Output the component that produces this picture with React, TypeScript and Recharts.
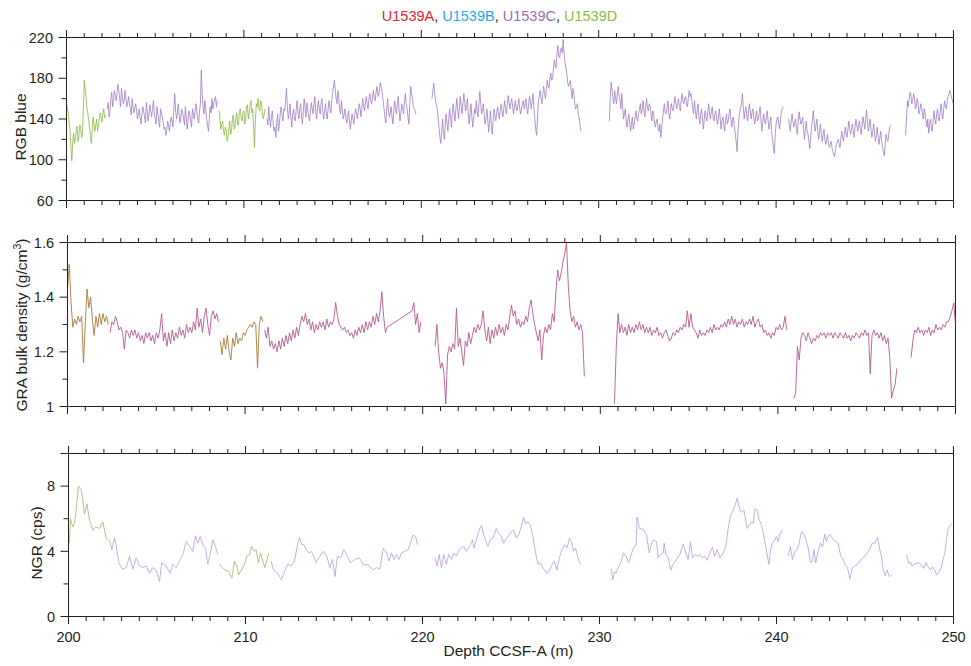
import React from 'react';
import { LineChart, Line, XAxis, YAxis, ReferenceLine } from 'recharts';

const W = 971;
const H = 666;
const FONT = '"Liberation Sans", Arial, Helvetica, sans-serif';
const INK = '#231f20';

// ---------- axes ----------
const depthDomain: [number, number] = [200, 250];
const depthMinorTicks = Array.from({ length: 51 }, (_, i) => 200 + i);
const depthLabelTicks = [200, 210, 220, 230, 240, 250];

const rgbTicks = [60, 80, 100, 120, 140, 160, 180, 200, 220];
const rgbLabels = [60, 100, 140, 180, 220];
const graTicks = [1, 1.1, 1.2, 1.3, 1.4, 1.5, 1.6];
const graLabels = [1, 1.2, 1.4, 1.6];
const ngrTicks = [0, 2, 4, 6, 8, 10];
const ngrLabels = [0, 4, 8];
const ngrMajor = [0, 4, 8, 10];

const holeNames = ['U1539A', 'U1539B', 'U1539C', 'U1539D'];
const holeColors = ['#e2232d', '#27a9e1', '#9d6db5', '#8dbd3f'];

// ---------- RGB blue (0.05 m spacing, start depth given) ----------
const rgbStep = 0.05;
const rgbD1Start = 200.0;
const rgbD1 = [155,150,146,136,128,112,99,118,126,116,120,130,133,118,124,134,131,122,125,150,
  178,170,162,150,146,138,132,124,116,130,142,135,128,134,140,128,133,140,146,142,137,145,150,141,144];
const rgbC1Start = 202.3;
const rgbC1 = [150,156,142,148,160,166,152,160,168,162,158,166,174,168,160,152,170,162,155,158,
  168,160,152,156,162,155,150,144,160,152,146,150,155,148,140,145,150,142,135,144,
  152,148,142,136,156,148,138,145,154,148,142,150,158,146,140,135,152,145,138,132,
  150,146,142,136,130,132,124,128,138,134,128,136,142,138,132,150,165,148,140,146,
  155,145,136,142,150,146,140,134,152,142,130,138,148,144,138,132,150,146,140,148,
  155,146,140,136,148,155,188,165,152,145,158,150,140,134,128,140,152,146,160,150,
  155,160,162,152,158];
const rgbD2Start = 208.6;
const rgbD2 = [148,140,130,135,138,128,124,132,130,118,122,130,138,125,128,140,144,130,132,142,
  146,134,136,148,150,140,138,146,148,135,140,152,154,140,145,155,158,146,150,130,
  112,140,155,152,160,150,148,158,155,145,140,146,150];
const rgbC2Start = 211.3;
const rgbC2 = [140,134,152,140,132,142,148,136,128,132,122,136,145,128,
  135,146,152,144,138,150,148,158,170,152,140,146,155,140,132,144,150,140,138,150,
  158,146,140,150,155,142,135,148,160,150,142,156,150,142,138,148,156,150,145,155,
  162,148,140,150,158,150,145,155,160,146,140,148,155,145,140,150,158,150,146,158,
  165,172,178,168,160,155,168,160,150,145,158,148,140,145,150,140,136,142,148,138,
  130,138,145,140,135,144,150,145,140,148,155,150,142,152,160,152,148,156,162,154,
  150,160,165,158,155,162,168,160,158,166,172,164,162,170,176,170,165,158,150,142,
  136,150,160,148,142,146,152,142,135,148,158,150,145,155,162,148,138,146,155,150,
  145,156,165,155,150,142,135,155,172,166,160,152,150,148,145];
const rgbC3Start = 220.6;
const rgbC3 = [160,168,175,165,158,154,150,140,
  132,122,116,128,140,126,120,134,145,136,128,140,150,140,132,146,155,145,138,150,
  160,150,140,152,162,152,145,156,165,155,148,154,160,145,135,145,155,142,132,140,
  150,145,158,148,142,155,167,155,145,150,155,142,135,142,150,138,127,138,148,134,
  125,138,150,144,138,146,152,145,140,148,155,148,142,150,158,150,145,155,163,156,
  150,156,160,152,145,152,158,150,148,155,160,150,145,150,155,158,150,155,160,150,
  145,155,162,156,150,158,165,150,140,130,124,140,158,162,168,160,155,165,172,165,
  160,170,178,172,170,180,185,178,180,190,198,192,190,205,212,202,200,208,210,205,
  218,205,195,190,185,176,172,175,178,168,160,170,165,155,150,152,155,145,140,134,
  128];
const rgbC4Start = 230.6;
const rgbC4 = [138,160,176,168,160,155,168,160,
  155,165,172,162,158,150,165,152,140,145,150,138,132,140,145,135,128,136,142,130,
  135,142,148,140,138,146,150,155,145,150,158,148,142,152,160,150,148,155,152,144,
  138,148,145,136,132,138,140,130,128,135,122,130,140,148,155,146,145,150,158,146,
  140,148,155,150,148,155,162,155,150,156,160,152,148,158,165,158,155,160,162,155,
  152,160,168,162,165,158,150,145,158,148,140,148,155,142,135,145,150,140,130,140,
  148,142,138,148,155,145,140,148,152,142,138,145,148,140,135,142,150,140,130,138,
  142,135,128,138,145,135,138,145,150,140,132,140,142,132,125,118,108,128,140,146,
  150,155,165,152,140,148,152,142,138,148,155,145,140,148,150,140,135,142,148,138,
  140,146,152,138,128,138,145,138,135,142,148,138,130,136,142,128,120,112,106,125,
  135,140,142,135,130,140,148,150,152];
const rgbC5Start = 240.7;
const rgbC5 = [140,134,128,138,145,138,
  132,136,140,130,125,138,147,140,135,138,142,130,120,130,138,128,125,118,111,122,
  132,140,148,136,128,134,140,128,120,128,135,125,118,124,130,120,115,120,125,116,
  112,115,118,112,108,105,103,110,115,118,120,116,112,120,128,122,118,125,132,126,
  122,130,138,130,125,130,135,128,122,132,140,134,128,134,138,130,125,135,142,136,
  130,140,149,138,128,134,140,130,122,128,135,126,118,125,132,122,115,122,128,118,
  112,108,104,115,125,120,118,125,132,133,134];
const rgbC6Start = 247.3;
const rgbC6 = [124,140,158,152,160,166,163,155,158,165,160,150,152,160,
  156,145,148,155,152,145,140,150,146,138,132,140,126,134,140,132,128,138,148,140,
  135,145,150,140,138,148,155,145,140,150,158,152,150,158,162,165,168,164,160,158,
  154];

// ---------- GRA bulk density (0.1 m spacing) ----------
const graStep = 0.1;
const graD1Start = 200.0;
const graD1 = [1.43,1.52,1.38,1.29,1.32,1.30,1.33,1.31,1.33,1.16,1.30,1.43,1.36,1.40,1.32,1.26,1.33,1.29,1.34,1.30,1.34,1.31,1.33,1.30];
const graC1Start = 202.4;
const graC1 = [1.27,1.31,1.30,1.33,1.31,1.28,
  1.29,1.27,1.21,1.28,1.27,1.25,1.28,1.26,1.28,1.25,
  1.27,1.24,1.26,1.23,1.27,1.25,1.27,1.24,1.26,1.23,
  1.27,1.25,1.28,1.34,1.24,1.27,1.22,1.27,1.23,1.28,
  1.24,1.27,1.25,1.29,1.26,1.28,1.25,1.30,1.27,1.29,
  1.27,1.31,1.28,1.36,1.29,1.32,1.27,1.33,1.36,1.30,
  1.26,1.33,1.35,1.32,1.34,1.31];
const graD2Start = 208.6;
const graD2 = [1.24,1.19,1.25,1.21,
  1.26,1.20,1.17,1.25,1.22,1.27,1.23,1.25,1.24,1.27,
  1.26,1.28,1.29,1.30,1.29,1.31,1.30,1.14,1.30,1.33,
  1.31];
const graC2aStart = 211.1;
const graC2a = [1.28,1.25,1.29,1.22,1.24,1.21,1.23,1.20,1.24,
  1.21,1.25,1.22,1.26,1.23,1.27,1.24,1.28,1.25,1.29,
  1.26,1.30,1.33,1.31,1.34,1.30,1.32,1.28,1.31,1.27,
  1.30,1.28,1.31,1.29,1.31,1.28,1.32,1.29,1.31,1.30,
  1.32,1.38,1.33,1.30,1.29,1.28,1.29,1.27,1.28,1.26,
  1.27,1.25,1.28,1.26,1.29,1.27,1.30,1.27,1.31,1.28,
  1.31,1.29,1.33,1.30,1.34,1.31,1.35,1.42,1.33,1.27,
  1.29];
const graC2bStart = 219.4;
const graC2b = [1.35,1.38,1.30,1.34,1.27,1.31];
const graC3Start = 220.7;
const graC3 = [1.22,1.30,1.20,
  1.14,1.16,1.12,1.01,1.19,1.22,1.20,1.23,1.21,1.36,
  1.22,1.25,1.20,1.15,1.24,1.22,1.27,1.23,1.26,1.29,
  1.27,1.30,1.28,1.30,1.35,1.28,1.24,1.29,1.23,1.28,
  1.25,1.29,1.26,1.30,1.27,1.29,1.26,1.30,1.28,1.33,
  1.37,1.33,1.35,1.30,1.32,1.29,1.31,1.30,1.33,1.31,
  1.36,1.39,1.34,1.30,1.27,1.24,1.28,1.17,1.26,1.29,
  1.27,1.30,1.28,1.34,1.31,1.42,1.50,1.46,1.49,1.53,
  1.56,1.60,1.44,1.35,1.31,1.33,1.29,1.31,1.28,1.30,
  1.27,1.11];
const graC4Start = 230.8;
const graC4 = [1.01,1.22,
  1.34,1.27,1.30,1.27,1.29,1.26,1.30,1.27,1.29,1.27,
  1.30,1.28,1.31,1.28,1.30,1.27,1.29,1.27,1.29,1.26,
  1.28,1.27,1.29,1.26,1.27,1.25,1.27,1.28,1.26,1.24,
  1.25,1.27,1.26,1.28,1.27,1.29,1.28,1.30,1.29,1.35,
  1.29,1.34,1.29,1.28,1.27,1.25,1.28,1.26,1.27,1.26,
  1.28,1.27,1.29,1.27,1.30,1.28,1.29,1.28,1.30,1.29,
  1.31,1.29,1.32,1.30,1.33,1.30,1.32,1.29,1.31,1.30,
  1.32,1.29,1.31,1.30,1.32,1.30,1.33,1.29,1.31,1.32,
  1.29,1.30,1.27,1.28,1.26,1.27,1.25,1.27,1.26,1.29,
  1.28,1.30,1.28,1.29,1.33,1.28];
const graC5Start = 240.9;
const graC5 = [1.03,
  1.05,1.22,1.17,1.25,1.27,1.26,1.24,1.27,1.25,1.23,
  1.25,1.24,1.26,1.25,1.27,1.26,1.27,1.25,1.27,1.26,
  1.27,1.25,1.27,1.26,1.25,1.27,1.26,1.25,1.27,1.25,
  1.26,1.24,1.26,1.25,1.27,1.26,1.25,1.27,1.26,1.28,
  1.26,1.27,1.12,1.26,1.28,1.26,1.27,1.25,1.27,1.24,
  1.26,1.23,1.25,1.18,1.03,1.06,1.08,1.14];
const graC6Start = 247.5;
const graC6 = [1.18,1.24,1.28,1.27,1.29,1.27,1.28,1.26,1.28,1.27,1.29,1.26,1.28,1.27,1.30,1.28,1.29,1.28,1.30,1.29,1.31,1.31,1.33,1.35,1.38,1.30];

// ---------- NGR (depth, cps) ----------
const ngrD1 = [[200.06,4.5],[200.11,6.0],[200.24,5.5],[200.34,5.7],[200.43,6.5],[200.56,8.0],[200.72,7.75],[200.81,7.1],[200.90,6.3],[201.04,6.9],[201.19,5.9],[201.37,5.3],[201.56,5.5],[201.75,5.4],[201.94,5.8],[202.13,4.8],[202.26,4.7]];
const ngrC1 = [[202.32,4.7],[202.45,4.1],[202.60,4.8],[202.69,4.4],[202.84,3.3],[203.03,2.9],[203.26,3.0],[203.45,3.7],[203.63,2.9],[203.82,3.6],[204.01,3.1],[204.20,3.0],[204.39,3.1],[204.58,2.65],[204.76,3.0],[204.95,2.85],[205.14,2.15],[205.27,3.3],[205.52,3.1],[205.74,2.65],[205.89,3.2],[206.08,3.0],[206.27,3.4],[206.46,3.8],[206.65,4.6],[206.84,4.3],[207.02,4.0],[207.18,4.95],[207.31,4.5],[207.44,4.9],[207.63,4.3],[207.74,4.2],[207.87,3.2],[208.02,3.9],[208.15,4.7],[208.30,4.3],[208.44,3.8]];
const ngrD2 = [[208.53,3.2],[208.68,3.0],[208.87,2.85],[209.06,2.75],[209.23,2.35],[209.38,3.4],[209.51,3.1],[209.62,2.55],[209.77,2.85],[209.94,3.2],[210.08,3.7],[210.23,3.8],[210.34,4.3],[210.49,4.0],[210.60,4.1],[210.73,3.3],[210.85,3.9],[210.98,3.4],[211.09,3.0],[211.22,3.5],[211.32,3.9]];
const ngrC2 = [[211.45,3.4],[211.58,2.85],[211.73,2.75],[211.92,2.45],[212.03,2.25],[212.20,2.75],[212.39,3.2],[212.58,3.1],[212.77,3.4],[212.92,4.3],[213.05,4.85],[213.18,4.4],[213.30,4.4],[213.43,4.1],[213.58,3.9],[213.71,4.0],[213.86,3.7],[213.99,3.3],[214.14,3.6],[214.40,4.0],[214.59,3.7],[214.77,3.0],[214.91,3.5],[215.06,2.45],[215.19,3.7],[215.38,3.6],[215.56,4.1],[215.71,3.8],[215.94,3.3],[216.18,3.5],[216.43,3.6],[216.65,3.2],[216.94,3.15],[217.18,2.85],[217.41,3.0],[217.59,2.9],[217.78,4.2],[217.97,3.9],[218.10,3.4],[218.25,3.9],[218.38,3.5],[218.53,3.8],[218.67,3.5],[218.82,3.9],[219.00,4.0],[219.19,4.1],[219.32,4.5],[219.47,5.0],[219.61,4.9],[219.72,4.4]];
const ngrC3 = [[220.70,3.6],[220.83,3.1],[220.94,3.8],[221.07,3.0],[221.20,3.8],[221.35,3.2],[221.48,3.8],[221.64,3.5],[221.77,3.9],[221.92,3.7],[222.07,4.1],[222.20,4.2],[222.33,4.3],[222.48,4.0],[222.67,4.3],[222.82,4.7],[222.91,4.2],[223.05,4.7],[223.20,5.3],[223.33,5.6],[223.42,5.2],[223.55,4.7],[223.70,4.3],[223.83,4.7],[223.98,4.8],[224.17,5.4],[224.30,5.1],[224.45,4.9],[224.59,4.5],[224.74,4.8],[224.89,5.0],[225.02,5.2],[225.15,5.3],[225.30,4.8],[225.43,5.0],[225.58,5.5],[225.71,6.1],[225.81,5.7],[225.96,5.8],[226.09,5.6],[226.24,4.9],[226.39,3.9],[226.52,3.2],[226.65,3.3],[226.80,3.0],[226.95,2.75],[227.05,2.65],[227.18,2.85],[227.33,3.2],[227.46,3.4],[227.59,2.85],[227.71,3.5],[227.84,4.0],[228.03,4.4],[228.16,4.2],[228.31,4.8],[228.42,4.6],[228.53,4.0],[228.65,4.2],[228.78,3.6],[228.91,3.2]];
const ngrC4 = [[230.66,2.95],[230.75,2.25],[230.85,2.75],[230.94,2.65],[231.07,3.05],[231.22,3.35],[231.35,3.9],[231.50,3.7],[231.65,3.3],[231.79,3.8],[231.92,4.2],[232.07,4.4],[232.12,6.1],[232.26,5.4],[232.47,5.35],[232.66,5.0],[232.81,3.9],[232.94,4.5],[233.07,4.7],[233.22,4.6],[233.31,3.6],[233.45,3.8],[233.60,3.9],[233.65,4.5],[233.75,3.8],[233.88,3.6],[234.03,2.85],[234.16,3.2],[234.35,3.5],[234.54,3.8],[234.73,4.45],[234.88,3.9],[235.01,3.5],[235.14,4.6],[235.25,3.6],[235.39,3.8],[235.52,3.7],[235.67,3.8],[235.82,3.6],[235.95,3.7],[236.08,3.45],[236.23,3.9],[236.38,4.25],[236.50,3.7],[236.65,4.1],[236.80,3.6],[236.99,3.9],[237.14,4.3],[237.27,5.4],[237.40,6.2],[237.55,6.5],[237.65,6.8],[237.78,7.25],[237.93,6.5],[238.06,6.4],[238.17,6.5],[238.27,5.8],[238.34,5.4],[238.46,5.6],[238.59,5.8],[238.68,5.7],[238.78,6.6],[238.91,6.5],[239.02,5.9],[239.10,5.8],[239.21,5.3],[239.34,4.6],[239.47,3.8],[239.57,3.2],[239.66,4.1],[239.77,4.5],[239.91,4.7],[240.00,4.9],[240.09,4.6],[240.19,5.05],[240.34,5.3]];
const ngrC5 = [[240.66,3.7],[240.79,4.3],[240.90,3.5],[241.04,4.0],[241.17,4.1],[241.28,4.5],[241.41,5.2],[241.54,5.1],[241.69,4.6],[241.79,4.2],[241.92,3.3],[242.03,3.4],[242.11,4.1],[242.22,3.3],[242.35,4.0],[242.49,4.5],[242.60,4.3],[242.73,5.05],[242.82,4.6],[242.92,4.9],[243.01,5.05],[243.16,4.8],[243.30,4.6],[243.48,4.5],[243.63,3.7],[243.77,3.5],[243.90,3.1],[244.01,3.0],[244.14,2.3],[244.29,3.0],[244.43,3.1],[244.56,3.2],[244.71,3.4],[244.86,3.6],[244.99,3.7],[245.12,3.9],[245.27,4.1],[245.40,4.5],[245.56,4.5],[245.71,4.85],[245.84,4.1],[245.93,3.7],[246.03,2.85],[246.14,2.5],[246.25,2.85],[246.37,2.45],[246.50,2.55]];
const ngrC6 = [[247.34,3.8],[247.48,3.25],[247.57,3.35],[247.66,3.1],[247.82,3.25],[248.00,3.3],[248.19,3.15],[248.32,2.95],[248.44,3.3],[248.57,3.05],[248.70,2.85],[248.81,3.05],[248.94,2.85],[249.04,2.55],[249.19,2.75],[249.32,3.05],[249.42,3.55],[249.51,3.9],[249.60,4.7],[249.70,5.4],[249.83,5.6],[249.94,5.75]];

// ---------- helpers ----------
type Pt = { x: number; v: number };
const seq = (start: number, step: number, vals: number[]): Pt[] =>
  vals.map((v, i) => ({ x: Math.round((start + i * step) * 1000) / 1000, v }));
const pairs = (p: number[][]): Pt[] => p.map(([x, v]) => ({ x, v }));

const RGB_C = '#a07cc0';
const RGB_D = '#8db443';
const GRA_C = '#b25b92';
const GRA_D = '#a8793f';
const NGR_C = '#b99bd7';
const NGR_D = '#a7ad6c';

type Seg = { data: Pt[]; color: string };

const rgbSegs: Seg[] = [
  { data: seq(rgbD1Start, rgbStep, rgbD1), color: RGB_D },
  { data: seq(rgbC1Start, rgbStep, rgbC1), color: RGB_C },
  { data: seq(rgbD2Start, rgbStep, rgbD2), color: RGB_D },
  { data: seq(rgbC2Start, rgbStep, rgbC2), color: RGB_C },
  { data: seq(rgbC3Start, rgbStep, rgbC3), color: RGB_C },
  { data: seq(rgbC4Start, rgbStep, rgbC4), color: RGB_C },
  { data: seq(rgbC5Start, rgbStep, rgbC5), color: RGB_C },
  { data: seq(rgbC6Start, rgbStep, rgbC6), color: RGB_C },
];
const graSegs: Seg[] = [
  { data: seq(graD1Start, graStep, graD1), color: GRA_D },
  { data: seq(graC1Start, graStep, graC1), color: GRA_C },
  { data: seq(graD2Start, graStep, graD2), color: GRA_D },
  { data: [...seq(graC2aStart, graStep, graC2a), ...seq(graC2bStart, graStep, graC2b)], color: GRA_C },
  { data: seq(graC3Start, graStep, graC3), color: GRA_C },
  { data: seq(graC4Start, graStep, graC4), color: GRA_C },
  { data: seq(graC5Start, graStep, graC5), color: GRA_C },
  { data: seq(graC6Start, graStep, graC6), color: GRA_C },
];
const ngrSegs: Seg[] = [
  { data: pairs(ngrD1), color: NGR_D },
  { data: pairs(ngrC1), color: NGR_C },
  { data: pairs(ngrD2), color: NGR_D },
  { data: pairs(ngrC2), color: NGR_C },
  { data: pairs(ngrC3), color: NGR_C },
  { data: pairs(ngrC4), color: NGR_C },
  { data: pairs(ngrC5), color: NGR_C },
  { data: pairs(ngrC6), color: NGR_C },
];

// ---------- tick renderers ----------
function XTick(props: any) {
  const { x, y, payload, dir, showLabel } = props;
  const v = Number(payload.value);
  const major = depthLabelTicks.includes(v);
  const len = major ? 7.5 : 4.5;
  return (
    <g>
      <line x1={x} x2={x} y1={y} y2={y + dir * len} stroke={INK} strokeWidth={1} />
      {showLabel && major ? (
        <text x={x} y={y + 25} textAnchor="middle" fontFamily={FONT} fontSize={14.5} fill={INK}>
          {v}
        </text>
      ) : null}
    </g>
  );
}

function YTick(props: any) {
  const { x, y, payload, labels, majors } = props;
  const v = Number(payload.value);
  const isLabel = labels.includes(v);
  const len = majors.includes(v) ? 8 : 5;
  return (
    <g>
      <line x1={x - len} x2={x} y1={y} y2={y} stroke={INK} strokeWidth={1} />
      {isLabel ? (
        <text x={x - 13.5} y={y + 5.2} textAnchor="end" fontFamily={FONT} fontSize={14.5} fill={INK}>
          {String(v)}
        </text>
      ) : null}
    </g>
  );
}

type PanelProps = {
  x0: number; x1: number; y0: number; y1: number;
  domain: [number, number];
  ticks: number[]; labels: number[]; majors: number[];
  segs: Seg[]; strokeWidth: number;
  title: React.ReactNode; titleBaseX: number; titleCY: number;
  showX?: boolean; legend?: boolean;
};

function Legend() {
  return (
    <text x={499.5} y={20.5} textAnchor="middle" fontFamily={FONT} fontSize={14.5} style={{ whiteSpace: 'pre' }}>
      {holeNames.map((n, i) => (
        <React.Fragment key={n}>
          <tspan fill={holeColors[i]}>{n}</tspan>
          {i < holeNames.length - 1 ? <tspan fill={INK}>{', '}</tspan> : null}
        </React.Fragment>
      ))}
    </text>
  );
}

function Panel(p: PanelProps) {
  const margin = { top: p.y0 - 10, right: W - p.x1, bottom: H - p.y1 - 12, left: 0 };
  return (
    <div style={{ position: 'absolute', left: 0, top: 0 }}>
      <LineChart width={W} height={H} margin={margin}>
        <XAxis
          xAxisId="t" orientation="top" type="number" dataKey="x"
          domain={depthDomain} ticks={depthMinorTicks} interval={0} allowDataOverflow
          height={10} tickSize={0} tickMargin={0} tickLine={false}
          axisLine={{ stroke: INK, strokeWidth: 1 }}
          tick={<XTick dir={-1} showLabel={false} />}
          label={p.legend ? { content: () => <Legend /> } : undefined}
        />
        <XAxis
          xAxisId="b" orientation="bottom" type="number" dataKey="x"
          domain={depthDomain} ticks={depthMinorTicks} interval={0} allowDataOverflow
          height={12} tickSize={0} tickMargin={0} tickLine={false}
          axisLine={{ stroke: INK, strokeWidth: 1 }}
          tick={<XTick dir={1} showLabel={!!p.showX} />}
          label={p.showX ? {
            content: () => (
              <text x={508.5} y={656} textAnchor="middle" fontFamily={FONT} fontSize={15.5} fill={INK}>
                Depth CCSF-A (m)
              </text>
            ),
          } : undefined}
        />
        <YAxis
          yAxisId="l" orientation="left" type="number"
          domain={p.domain} ticks={p.ticks} interval={0} allowDataOverflow
          width={p.x0} tickSize={0} tickMargin={0} tickLine={false}
          axisLine={{ stroke: INK, strokeWidth: 1 }}
          tick={<YTick labels={p.labels} majors={p.majors} />}
          label={{
            content: () => (
              <text
                x={p.titleBaseX} y={p.titleCY}
                transform={`rotate(-90 ${p.titleBaseX} ${p.titleCY})`}
                textAnchor="middle" fontFamily={FONT} fontSize={15.5} fill={INK}
              >
                {p.title}
              </text>
            ),
          }}
        />
        <ReferenceLine xAxisId="b" yAxisId="l" x={250} stroke={INK} strokeWidth={1} ifOverflow="extendDomain" />
        {p.segs.map((s, i) => (
          <Line
            key={i} xAxisId="b" yAxisId="l" data={s.data} dataKey="v" type="linear"
            stroke={s.color} strokeWidth={p.strokeWidth} dot={false} activeDot={false}
            isAnimationActive={false}
          />
        ))}
      </LineChart>
    </div>
  );
}

export default function App() {
  return (
    <div style={{ position: 'absolute', left: 0, top: 0, width: W, height: H, background: '#fff', fontFamily: FONT }}>
      <Panel
        x0={66.5} x1={953.5} y0={37.5} y1={200.5}
        domain={[60, 220]} ticks={rgbTicks} labels={rgbLabels} majors={rgbLabels}
        segs={rgbSegs} strokeWidth={0.8}
        title="RGB blue" titleBaseX={26} titleCY={127}
        legend
      />
      <Panel
        x0={67.5} x1={955.5} y0={242.5} y1={406.5}
        domain={[1, 1.6]} ticks={graTicks} labels={graLabels} majors={graLabels}
        segs={graSegs} strokeWidth={0.9}
        title={<>
          <tspan>GRA bulk density (g/cm</tspan>
          <tspan dy={-5.5} fontSize={10.5}>3</tspan>
          <tspan dy={5.5}>)</tspan>
        </>}
        titleBaseX={26.5} titleCY={325}
      />
      <Panel
        x0={68.5} x1={953.5} y0={453.5} y1={616.5}
        domain={[0, 10]} ticks={ngrTicks} labels={ngrLabels} majors={ngrMajor}
        segs={ngrSegs} strokeWidth={0.8}
        title="NGR (cps)" titleBaseX={42} titleCY={543}
        showX
      />
    </div>
  );
}
